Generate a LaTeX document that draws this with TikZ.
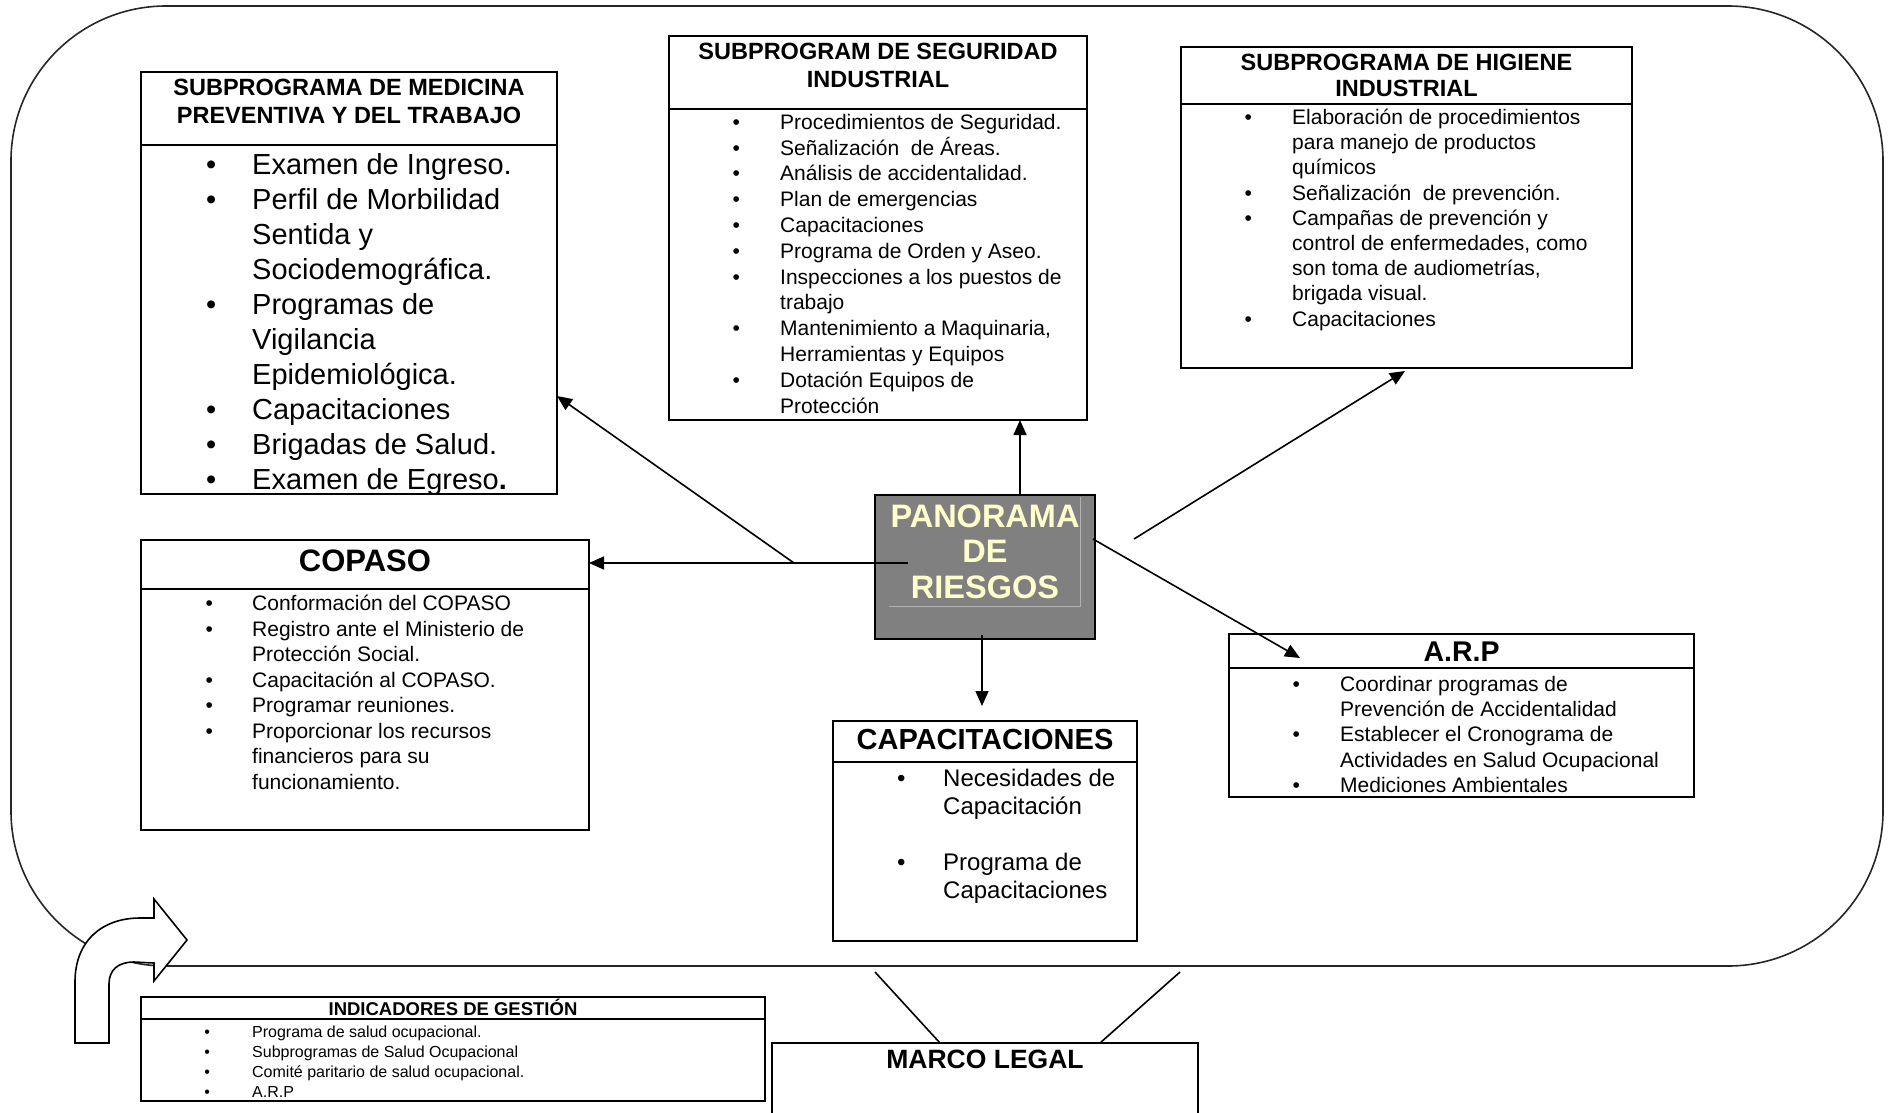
\documentclass[tikz,border=0pt]{standalone}
\usepackage{fontspec}
\setmainfont{Liberation Sans}
\usetikzlibrary{arrows.meta,calc}
\definecolor{pangray}{RGB}{128,128,128}
\definecolor{panyellow}{RGB}{255,255,204}
\newcommand\bul{\makebox[0pt][c]{•}}
\newcommand\fs[2]{\fontsize{#1}{#2}\selectfont}
\begin{document}
\begin{tikzpicture}[x=1pt,y=-1pt,
  box/.style={draw=black, line width=2pt, inner sep=0pt, outer sep=0pt, anchor=north west},
  divl/.style={line width=2pt},
  arr/.style={line width=1.6pt, -{Triangle[length=15pt,width=13pt]}},
  lst/.style={inner sep=0pt, anchor=base west},
  ttl/.style={inner sep=0pt, anchor=base},
  thin/.style={line width=1.6pt}]
\useasboundingbox (0,0) rectangle (1891,1112);
\clip (0,0) rectangle (1891,1112);

% outer frame
\draw[line width=1.6pt, draw=black!85, rounded corners=155pt] (11,6) rectangle (1883,966);

% curved block arrow
\draw[line width=1.6pt, fill=white] (75,1043) -- (75,982)
  .. controls (75,940) and (103,918) .. (140,918) -- (154,918) -- (154,899) -- (187,940) -- (154,981) -- (154,963)
  -- (134,962) .. controls (118,962) and (109,970) .. (109,984) -- (109,1043) -- cycle;

% ---------- Medicina ----------
\node[box, minimum width=416pt, minimum height=422pt] (med) at (141,72) {};
\draw[divl] ($(med.north west)+(0,73)$) -- ($(med.north east)+(0,73)$);
\node[ttl, font=\fs{23.5}{28}\bfseries] (medT) at (349,95.4)
  {\begin{tabular}[t]{@{}c@{}}SUBPROGRAMA DE MEDICINA\\PREVENTIVA Y DEL TRABAJO\end{tabular}};
\node[lst, font=\fs{29}{35}] (medL) at (211,174.4)
  {\begin{tabular}[t]{@{}l@{\hspace{41pt}}l@{}}
  \bul & Examen de Ingreso.\\
  \bul & Perfil de Morbilidad\\
       & Sentida y\\
       & Sociodemográfica.\\
  \bul & Programas de\\
       & Vigilancia\\
       & Epidemiológica.\\
  \bul & Capacitaciones\\
  \bul & Brigadas de Salud.\\
  \bul & Examen de Egreso\textbf{.}
  \end{tabular}};

% ---------- Seguridad ----------
\node[box, minimum width=418pt, minimum height=384pt] (seg) at (669,36) {};
\draw[divl] ($(seg.north west)+(0,73)$) -- ($(seg.north east)+(0,73)$);
\node[ttl, font=\fs{23.5}{28}\bfseries] (segT) at (878,59)
  {\begin{tabular}[t]{@{}c@{}}SUBPROGRAM DE SEGURIDAD\\INDUSTRIAL\end{tabular}};
\node[lst, font=\fs{21}{25.8}] (segL) at (736,129.3)
  {\begin{tabular}[t]{@{}l@{\hspace{44pt}}l@{}}
  \bul & Procedimientos de Seguridad.\\
  \bul & Señalización\ \ de \smash{Á}reas.\\
  \bul & Análisis de accidentalidad.\\
  \bul & Plan de emergencias\\
  \bul & Capacitaciones\\
  \bul & Programa de Orden y Aseo.\\
  \bul & Inspecciones a los puestos de\\
       & trabajo\\
  \bul & Mantenimiento a Maquinaria,\\
       & Herramientas y Equipos\\
  \bul & Dotación Equipos de\\
       & Protección
  \end{tabular}};

% ---------- Higiene ----------
\node[box, minimum width=451pt, minimum height=321pt] (hig) at (1181,47) {};
\draw[divl] ($(hig.north west)+(0,57)$) -- ($(hig.north east)+(0,57)$);
\node[ttl, font=\fs{23.5}{26.5}\bfseries] (higT) at (1406.5,70)
  {\begin{tabular}[t]{@{}c@{}}SUBPROGRAMA DE HIGIENE\\INDUSTRIAL\end{tabular}};
\node[lst, font=\fs{21}{25.2}] (higL) at (1248,124.5)
  {\begin{tabular}[t]{@{}l@{\hspace{44pt}}l@{}}
  \bul & Elaboración de procedimientos\\
       & para manejo de productos\\
       & químicos\\
  \bul & Señalización\ \ de prevención.\\
  \bul & Campañas de prevención y\\
       & control de enfermedades, como\\
       & son toma de audiometrías,\\
       & brigada visual.\\
  \bul & Capacitaciones
  \end{tabular}};

% ---------- Panorama ----------
\node[box, fill=pangray, minimum width=220pt, minimum height=144pt] (pan) at (875,495) {};
\draw[line width=1pt, draw=black!30] (889,606) -- (1080,606) -- (1080,497);
\node[ttl, text=panyellow, font=\fs{32.5}{35.5}\bfseries] (panT) at (985,527)
  {\begin{tabular}[t]{@{}c@{}}PANORAMA\\DE\\RIESGOS\end{tabular}};

% ---------- COPASO ----------
\node[box, minimum width=448pt, minimum height=290pt] (cop) at (141,540) {};
\draw[divl] ($(cop.north west)+(0,49)$) -- ($(cop.north east)+(0,49)$);
\node[ttl, font=\fs{31}{36}\bfseries] (copT) at (365,571) {COPASO};
\node[lst, font=\fs{21}{25.5}] (copL) at (209,610.5)
  {\begin{tabular}[t]{@{}l@{\hspace{43pt}}l@{}}
  \bul & Conformación del COPASO\\
  \bul & Registro ante el Ministerio de\\
       & Protección Social.\\
  \bul & Capacitación al COPASO.\\
  \bul & Programar reuniones.\\
  \bul & Proporcionar los recursos\\
       & financieros para su\\
       & funcionamiento.
  \end{tabular}};

% ---------- Capacitaciones ----------
\node[box, minimum width=304pt, minimum height=220pt] (cap) at (833,721) {};
\draw[divl] ($(cap.north west)+(0,41)$) -- ($(cap.north east)+(0,41)$);
\node[ttl, font=\fs{29}{34}\bfseries] (capT) at (985,749.7) {CAPACITACIONES};
\node[lst, font=\fs{24}{28}] (capL) at (901,786.6)
  {\begin{tabular}[t]{@{}l@{\hspace{42pt}}l@{}}
  \bul & Necesidades de\\
       & Capacitación\\
       & \\
  \bul & Programa de\\
       & Capacitaciones
  \end{tabular}};

% ---------- ARP ----------
\node[box, minimum width=465pt, minimum height=163pt] (arp) at (1229,634) {};
\draw[divl] ($(arp.north west)+(0,34)$) -- ($(arp.north east)+(0,34)$);
\node[ttl, font=\fs{28.5}{33}\bfseries] (arpT) at (1461.5,661) {A.R.P};
\node[lst, font=\fs{21}{25.3}] (arpL) at (1296,691.3)
  {\begin{tabular}[t]{@{}l@{\hspace{44pt}}l@{}}
  \bul & Coordinar programas de\\
       & Prevención de Accidentalidad\\
  \bul & Establecer el Cronograma de\\
       & Actividades en Salud Ocupacional\\
  \bul & Mediciones Ambientales
  \end{tabular}};

% ---------- Indicadores ----------
\node[box, minimum width=624pt, minimum height=104pt] (ind) at (141,997) {};
\draw[divl] ($(ind.north west)+(0,22)$) -- ($(ind.north east)+(0,22)$);
\node[ttl, font=\fs{18.5}{22}\bfseries] (indT) at (453,1015) {INDICADORES DE GESTIÓN};
\node[lst, font=\fs{16}{20}] (indL) at (207,1037)
  {\begin{tabular}[t]{@{}l@{\hspace{45pt}}l@{}}
  \bul & Programa de salud ocupacional.\\
  \bul & Subprogramas de Salud Ocupacional\\
  \bul & Comité paritario de salud ocupacional.\\
  \bul & A.R.P
  \end{tabular}};

% ---------- Marco legal ----------
\node[box, minimum width=426pt, minimum height=100pt] (marco) at (772,1043) {};
\node[ttl, font=\fs{26.5}{30}\bfseries] (marcoT) at (985,1068.5) {MARCO LEGAL};
\coordinate (m1) at (875,972);
\coordinate (m2) at (1180,972);
\draw[thin] (m1) -- ($(marco.north west)+(168,0)$);
\draw[thin] (m2) -- ($(marco.north west)+(328,0)$);

% ---------- connectors ----------
\coordinate (pW) at (908,563);
\coordinate (pM) at (794,563);
\coordinate (pH) at (1134,539);
\draw[arr] (pW) -- (pW -| cop.east);
\draw[arr] (pM) -- ($(med.north east)+(0,324)$);
\draw[arr] ($(pan.north)+(35,-1)$) -- ($(seg.south)+(142,0)$);
\draw[arr] (pH) -- ($(hig.south west)+(224,3)$);
\draw[arr] ($(pan.east)+(-2,-28)$) -- ($(arp.north west)+(71,24)$);
\draw[arr] ($(pan.south)+(-3,-4)$) -- ($(cap.north)+(-3,-15)$);
\end{tikzpicture}
\end{document}
